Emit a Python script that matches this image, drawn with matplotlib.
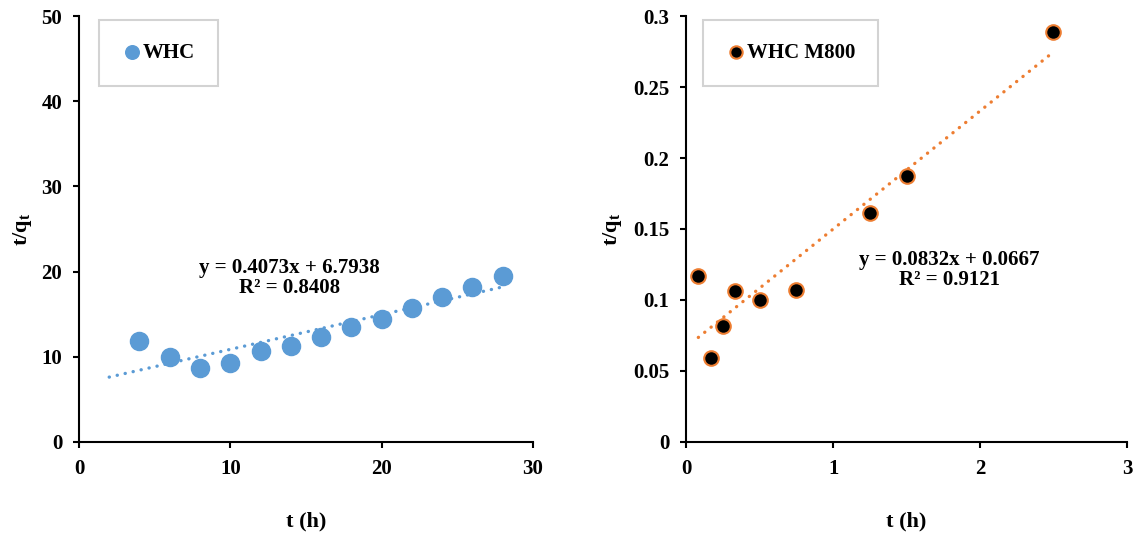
import numpy as np
import matplotlib.pyplot as plt

plt.rcParams['font.family'] = ['Liberation Serif', 'DejaVu Serif']
plt.rcParams['font.weight'] = 'bold'
plt.rcParams['mathtext.fontset'] = 'custom'
plt.rcParams['mathtext.rm'] = 'Liberation Serif:bold'
plt.rcParams['mathtext.it'] = 'Liberation Serif:bold'

# pseudo-second-order plots, t/qt vs t
t_whc = [4, 6, 8, 10, 12, 14, 16, 18, 20, 22, 24, 26, 28]
y_whc = [11.85, 10.0, 8.65, 9.3, 10.7, 11.3, 12.3, 13.55, 14.45, 15.75, 17.0, 18.15, 19.45]
slope_whc, icpt_whc, r2_whc = 0.4073, 6.7938, 0.8408

t_m800 = [0.083, 0.167, 0.25, 0.333, 0.5, 0.75, 1.25, 1.5, 2.5]
y_m800 = [0.117, 0.059, 0.0815, 0.106, 0.100, 0.107, 0.161, 0.187, 0.289]
slope_m800, icpt_m800, r2_m800 = 0.0832, 0.0667, 0.9121

blue = '#5B9BD5'
orange = '#ED7D31'
W, H = 1136, 535

fig = plt.figure(figsize=(W / 100, H / 100), dpi=100)
ax1 = fig.add_axes([0.0695, 0.174, 0.3996, 0.796])
ax2 = fig.add_axes([0.604, 0.174, 0.388, 0.796])

for ax in (ax1, ax2):
    ax.spines['top'].set_visible(False)
    ax.spines['right'].set_visible(False)
    ax.spines['left'].set_linewidth(1.5)
    ax.spines['bottom'].set_linewidth(1.5)
    ax.tick_params(direction='out', width=1.5, length=4, labelsize=15, pad=8)
    ax.set_xlabel('t (h)', fontsize=16, fontweight='bold', labelpad=24)
    ax.set_ylabel('t/q$_\\mathregular{t}$', fontsize=16, fontweight='bold')

dots = dict(lw=2.4, linestyle=(0, (0.05, 2.4)), dash_capstyle='round', zorder=2)
leg_kw = dict(loc='upper left', fontsize=15, handletextpad=0.0, borderpad=1.1,
              borderaxespad=0, fancybox=False, edgecolor='#C8C8C8',
              handlelength=1.0, bbox_transform=fig.transFigure)

# left panel
ax1.scatter(t_whc, y_whc, s=170, color=blue, label='WHC', zorder=3)
xf = np.array([2, 28])
ax1.plot(xf, slope_whc * xf + icpt_whc, color=blue, **dots)
ax1.text(13.9, 19.3, f'y = {slope_whc}x + {icpt_whc}\nR² = {r2_whc}',
         ha='center', va='center', fontsize=15, fontweight='bold', linespacing=1.0)
ax1.set_xlim(0, 30)
ax1.set_ylim(0, 50)
ax1.set_xticks([0, 10, 20, 30])
ax1.set_yticks(range(0, 51, 10))
ax1.yaxis.set_label_coords(-0.10, 0.5)
leg1 = ax1.legend(bbox_to_anchor=(99 / W, 1 - 20 / H), markerscale=0.75, **leg_kw)
leg1.get_frame().set_linewidth(1.5)

# right panel
ax2.scatter(t_m800, y_m800, s=110, color='black', edgecolor=orange, linewidth=1.5,
            label='WHC M800', zorder=3)
xf2 = np.array([t_m800[0], t_m800[-1]])
ax2.plot(xf2, slope_m800 * xf2 + icpt_m800, color=orange, **dots)
ax2.text(1.79, 0.1212, f'y = {slope_m800}x + {icpt_m800}\nR² = {r2_m800}',
         ha='center', va='center', fontsize=15, fontweight='bold', linespacing=1.0)
ax2.set_xlim(0, 3)
ax2.set_ylim(0, 0.3)
ax2.set_xticks([0, 1, 2, 3])
ax2.set_yticks([0, 0.05, 0.1, 0.15, 0.2, 0.25, 0.3])
ax2.set_yticklabels(['0', '0.05', '0.1', '0.15', '0.2', '0.25', '0.3'])
ax2.yaxis.set_label_coords(-0.14, 0.5)
leg2 = ax2.legend(bbox_to_anchor=(703 / W, 1 - 20 / H), markerscale=0.85, **leg_kw)
leg2.get_frame().set_linewidth(1.5)

fig.savefig('out.png', dpi=100)
